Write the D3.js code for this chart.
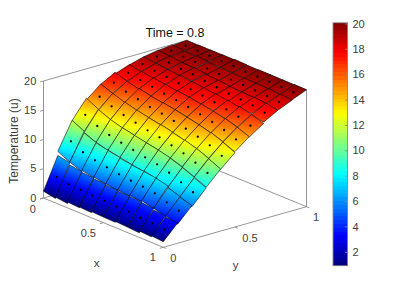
<!DOCTYPE html>
<html>
<head>
<meta charset="utf-8">
<script src="https://cdn.jsdelivr.net/npm/d3@7"></script>
<style>
	html, body { margin:0; padding:0; background:#fff; }
	text { font-family:"Liberation Sans", Arial, sans-serif; }
</style>
</head>
<body>
<div id="chart"></div>
<script>
var xTicks=[0,0.5,1];
var yTicks=[0,0.5,1];
var zTicks=[0,5,10,15,20];
var colorTicks=[2,4,6,8,10,12,14,16,18,20];
var colorLimits=[0.94,20.1];

// temperature at each cell centre, one row per y cell, x runs along the row
var uRow0=[3.67,3.26,3.13,3.00,2.93,2.80,2.79,2.60,2.49,2.30];
var uRow1=[9.07,8.04,7.50,7.15,6.80,6.55,6.37,6.08,5.39,4.80];
var uRow2=[12.9,11.84,11.14,10.68,10.26,9.86,9.50,8.90,8.11,7.25];
var uRow3=[15.3,14.5,13.87,13.4,12.93,12.58,12.05,11.53,10.77,9.85];
var uRow4=[17.0,16.3,15.86,15.4,15.08,14.68,14.2,13.68,13.05,12.1];
var uRow5=[18.0,17.6,17.3,16.97,16.7,16.37,15.96,15.5,14.97,14.2];
var uRow6=[18.8,18.5,18.3,18.05,17.86,17.6,17.33,16.97,16.55,15.85];
var uRow7=[19.4,19.2,18.95,18.89,18.59,18.36,18.1,17.95,17.8,17.4];
var uRow8=[19.7,19.5,19.45,19.2,19.09,18.95,18.9,18.8,18.7,18.5];
var uRow9=[19.9,19.85,19.84,19.77,19.76,19.63,19.65,19.6,19.55,19.5];
var uRows=[uRow0,uRow1,uRow2,uRow3,uRow4,uRow5,uRow6,uRow7,uRow8,uRow9];

var iWidth=399;
var iHeight=299;
var sAxisColor="#8a8a8a";
var sTextColor="#404040";

// the three axes of the oblique view, each one gets a scale per screen direction
var xToLeft=d3.scaleLinear().domain([0,1]).range([0,119.8]);
var xToTop=d3.scaleLinear().domain([0,1]).range([0,49.3]);
var yToLeft=d3.scaleLinear().domain([0,1]).range([0,143.2]);
var yToTop=d3.scaleLinear().domain([0,1]).range([0,-40.6]);
var zToTop=d3.scaleLinear().domain([0,20]).range([0,-117]);

function Project(x,y,z)
{
	return [43.5+xToLeft(x)+yToLeft(y), 198+xToTop(x)+yToTop(y)+zToTop(z)];
}

function Jet(t)
{
	function Ramp(v){ return Math.max(0,Math.min(1,1.5-Math.abs(4*t-v))); }
	return d3.rgb(255*Ramp(3),255*Ramp(2),255*Ramp(1)).formatHex();
}

var colorValue=d3.scaleLinear().domain(colorLimits).range([0,1]).clamp(true);

var svg=d3.select("#chart").append("svg")
	.attr("width",iWidth)
	.attr("height",iHeight)
	.style("display","block");
var defs=svg.append("defs");

var lineGen=d3.line();

function AddLine(p1,p2)
{
	svg.append("path")
		.attr("d",lineGen([p1,p2]))
		.attr("fill","none")
		.attr("stroke",sAxisColor)
		.attr("stroke-width",0.9);
}

function AddLabel(pos,sText,sAnchor,iSize,sColor)
{
	return svg.append("text")
		.attr("x",pos[0])
		.attr("y",pos[1])
		.attr("text-anchor",sAnchor)
		.attr("dominant-baseline","central")
		.attr("font-size",iSize)
		.attr("fill",sColor||sTextColor)
		.text(sText);
}

// back box
AddLine(Project(0,0,0),Project(1,0,0));
AddLine(Project(1,0,0),Project(1,1,0));
AddLine(Project(0,0,0),Project(0,1,0));
AddLine(Project(0,1,0),Project(1,1,0));
AddLine(Project(0,0,0),Project(0,0,20));
AddLine(Project(1,1,0),Project(1,1,20));
AddLine(Project(0,0,20),Project(0,1,20));
AddLine(Project(0,1,20),Project(1,1,20));

// ticks
var fTickLen=0.024;
xTicks.forEach(function(v){
	AddLine(Project(v,0,0),Project(v,-fTickLen,0));
});
yTicks.forEach(function(v){
	AddLine(Project(1,v,0),Project(1+fTickLen,v,0));
});
zTicks.forEach(function(v){
	AddLine(Project(0,0,v),Project(0,-fTickLen,v));
});

// surface, back rows first so the nearer cells paint over them
var iCells=uRows.length;
var iColumns=uRows[0].length;
var surface=svg.append("g");

// each cell is a flat parallelogram on screen, so one linear gradient shades it exactly
function DrawCell(j,i)
{
	var c=uRows[j][i];
	var iL=Math.max(0,i-1), iR=Math.min(iColumns-1,i+1);
	var jL=Math.max(0,j-1), jR=Math.min(iCells-1,j+1);
	var gx=(uRows[j][iR]-uRows[j][iL])/(iR-iL);
	var gy=(uRows[jR][i]-uRows[jL][i])/(jR-jL);

	function UAt(s,t){ return c+gx*(s-0.5)+gy*(t-0.5); }
	function Corner(s,t){ return Project((i+s)/iColumns,(j+t)/iCells,UAt(s,t)); }

	var p00=Corner(0,0), pS=Corner(1,0), pT=Corner(0,1), centre=Corner(0.5,0.5);
	var ax=pS[0]-p00[0], ay=pS[1]-p00[1], bx=pT[0]-p00[0], by=pT[1]-p00[1];
	var det=ax*by-ay*bx;
	var vx=(gx*by-gy*ay)/det;
	var vy=(ax*gy-bx*gx)/det;
	var vLen2=vx*vx+vy*vy;

	var uCorners=[UAt(0,0),UAt(1,0),UAt(1,1),UAt(0,1)];
	var uLow=d3.min(uCorners), uHigh=d3.max(uCorners);
	var sID="cell"+j+"_"+i;

	var grad=defs.append("linearGradient")
		.attr("id",sID)
		.attr("gradientUnits","userSpaceOnUse")
		.attr("x1",centre[0]+vx/vLen2*(uLow-c))
		.attr("y1",centre[1]+vy/vLen2*(uLow-c))
		.attr("x2",centre[0]+vx/vLen2*(uHigh-c))
		.attr("y2",centre[1]+vy/vLen2*(uHigh-c));

	grad.selectAll("stop")
		.data(d3.range(0,1.001,0.1))
		.enter().append("stop")
		.attr("offset",function(f){ return f; })
		.attr("stop-color",function(f){ return Jet(colorValue(uLow+f*(uHigh-uLow))); });

	var cell=surface.append("g");
	var sOutline=lineGen([Corner(0,0),Corner(1,0),Corner(1,1),Corner(0,1)])+"Z";

	cell.append("path")
		.attr("d",sOutline)
		.attr("fill","url(#"+sID+")");

	cell.append("path")
		.attr("d",sOutline)
		.attr("fill","none")
		.attr("stroke","#000")
		.attr("stroke-width",0.75)
		.attr("stroke-opacity",0.75);

	cell.append("circle")
		.attr("cx",centre[0])
		.attr("cy",centre[1])
		.attr("r",1.15)
		.attr("fill","#000");
}

for(var j=iCells-1;j>=0;j--)
{
	for(var i=0;i<iColumns;i++)
	{
		DrawCell(j,i);
	}
}

// tick labels
var xLabelSpots=[[32.7,209],[88.3,232.7],[152.7,257.3]];
xTicks.forEach(function(v,n){ AddLabel(xLabelSpots[n],String(v),"middle",11); });
var yLabelSpots=[[173.3,258.3],[250,238],[316,217.3]];
yTicks.forEach(function(v,n){ AddLabel(yLabelSpots[n],String(v),"middle",11); });
zTicks.forEach(function(v){
	var p=Project(0,0,v);
	AddLabel([36.3,p[1]-0.5],String(v),"end",11);
});

AddLabel([96.7,262.7],"x","middle",11.5);
AddLabel([235.7,265],"y","middle",11.5);
AddLabel([175,32.7],"Time = 0.8","middle",12.5,"#111");
AddLabel([0,0],"Temperature (u)","middle",12)
	.attr("transform","translate(13.5,141) rotate(-90)");

// colorbar
var colorTop=22.7;
var colorBottom=265.7;
var colorLeft=333;
var colorRight=347.5;
var colorY=d3.scaleLinear().domain(colorLimits).range([colorBottom,colorTop]);
var colorSteps=d3.range(64);
var colorStepSize=(colorLimits[1]-colorLimits[0])/64;

svg.append("g").selectAll("rect")
	.data(colorSteps)
	.enter().append("rect")
	.attr("x",colorLeft)
	.attr("width",colorRight-colorLeft)
	.attr("y",function(n){ return Math.round(colorY(colorLimits[0]+(n+1)*colorStepSize)); })
	.attr("height",function(n){ return Math.round(colorY(colorLimits[0]+n*colorStepSize))-Math.round(colorY(colorLimits[0]+(n+1)*colorStepSize)); })
	.attr("shape-rendering","crispEdges")
	.attr("fill",function(n){ return Jet((n+0.5)/64); });

svg.append("rect")
	.attr("x",colorLeft)
	.attr("y",colorTop)
	.attr("width",colorRight-colorLeft)
	.attr("height",colorBottom-colorTop)
	.attr("fill","none")
	.attr("stroke",sAxisColor)
	.attr("stroke-width",0.9);

colorTicks.forEach(function(v){
	var iTop=colorY(v);
	AddLine([colorRight-2.5,iTop],[colorRight,iTop]);
	AddLabel([352.4,iTop-0.3],String(v),"start",11);
});
</script>
</body>
</html>
